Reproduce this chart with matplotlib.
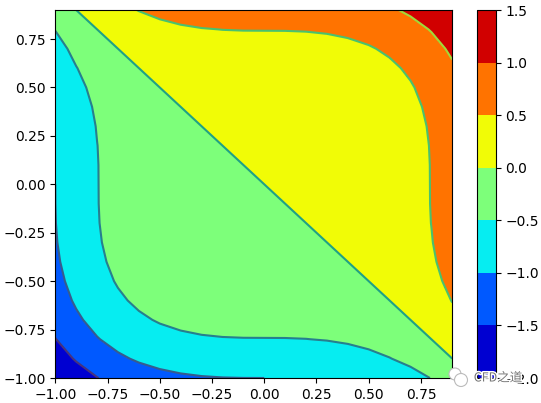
import matplotlib
matplotlib.use("Agg")
import matplotlib.pyplot as plt
import matplotlib.patheffects as pe
from matplotlib.patches import Circle
import numpy as np

x_values = [-1.0, -0.9, -0.8, -0.7, -0.6, -0.5, -0.4, -0.3, -0.2, -0.1,
            0.0, 0.1, 0.2, 0.3, 0.4, 0.5, 0.6, 0.7, 0.8, 0.9]
y_values = list(x_values)

z_rows = [
    [-2, -1.729, -1.512, -1.343, -1.216, -1.125, -1.064, -1.027, -1.008, -1.001, -1, -.999, -.992, -.973, -.936, -.875, -.784, -.657, -.488, -.271],
    [-1.729, -1.458, -1.241, -1.072, -.945, -.854, -.793, -.756, -.737, -.73, -.729, -.728, -.721, -.702, -.665, -.604, -.513, -.386, -.217, 0],
    [-1.512, -1.241, -1.024, -.855, -.728, -.637, -.576, -.539, -.52, -.513, -.512, -.511, -.504, -.485, -.448, -.387, -.296, -.169, 0, .217],
    [-1.343, -1.072, -.855, -.686, -.559, -.468, -.407, -.37, -.351, -.344, -.343, -.342, -.335, -.316, -.279, -.218, -.127, 0, .169, .386],
    [-1.216, -.945, -.728, -.559, -.432, -.341, -.28, -.243, -.224, -.217, -.216, -.215, -.208, -.189, -.152, -.091, 0, .127, .296, .513],
    [-1.125, -.854, -.637, -.468, -.341, -.25, -.189, -.152, -.133, -.126, -.125, -.124, -.117, -.098, -.061, 0, .091, .218, .387, .604],
    [-1.064, -.793, -.576, -.407, -.28, -.189, -.128, -.091, -.072, -.065, -.064, -.063, -.056, -.037, 0, .061, .152, .279, .448, .665],
    [-1.027, -.756, -.539, -.37, -.243, -.152, -.091, -.054, -.035, -.028, -.027, -.026, -.019, 0, .037, .098, .189, .316, .485, .702],
    [-1.008, -.737, -.52, -.351, -.224, -.133, -.072, -.035, -.016, -.009, -.008, -.007, 0, .019, .056, .117, .208, .335, .504, .721],
    [-1.001, -.73, -.513, -.344, -.217, -.126, -.065, -.028, -.009, -.002, -.001, 0, .007, .026, .063, .124, .215, .342, .511, .728],
    [-1, -.729, -.512, -.343, -.216, -.125, -.064, -.027, -.008, -.001, 0, .001, .008, .027, .064, .125, .216, .343, .512, .729],
    [-.999, -.728, -.511, -.342, -.215, -.124, -.063, -.026, -.007, 0, .001, .002, .009, .028, .065, .126, .217, .344, .513, .73],
    [-.992, -.721, -.504, -.335, -.208, -.117, -.056, -.019, 0, .007, .008, .009, .016, .035, .072, .133, .224, .351, .52, .737],
    [-.973, -.702, -.485, -.316, -.189, -.098, -.037, 0, .019, .026, .027, .028, .035, .054, .091, .152, .243, .37, .539, .756],
    [-.936, -.665, -.448, -.279, -.152, -.061, 0, .037, .056, .063, .064, .065, .072, .091, .128, .189, .28, .407, .576, .793],
    [-.875, -.604, -.387, -.218, -.091, 0, .061, .098, .117, .124, .125, .126, .133, .152, .189, .25, .341, .468, .637, .854],
    [-.784, -.513, -.296, -.127, 0, .091, .152, .189, .208, .215, .216, .217, .224, .243, .28, .341, .432, .559, .728, .945],
    [-.657, -.386, -.169, 0, .127, .218, .279, .316, .335, .342, .343, .344, .351, .37, .407, .468, .559, .686, .855, 1.072],
    [-.488, -.217, 0, .169, .296, .387, .448, .485, .504, .511, .512, .513, .52, .539, .576, .637, .728, .855, 1.024, 1.241],
    [-.271, 0, .217, .386, .513, .604, .665, .702, .721, .728, .729, .73, .737, .756, .793, .854, .945, 1.072, 1.241, 1.458],
]

W, H = 541, 403
fig = plt.figure(figsize=(W / 100, H / 100), dpi=100)
ax = fig.add_axes([55.3 / W, 1 - 378 / H, (452.3 - 55.3) / W, (378 - 10) / H])
cax = fig.add_axes([477.4 / W, 1 - 378 / H, 18.4 / W, (378 - 10) / H])

X, Y = np.meshgrid(x_values, y_values)
Z = np.array(z_rows)

filled = ax.contourf(X, Y, Z, cmap="jet")
ax.contour(X, Y, Z)
fig.colorbar(filled, cax=cax)

# Watermark in the lower-right corner
for cx, cy, r in [(455, 374, 6), (461, 380, 6.5)]:
    fig.add_artist(Circle((cx, H - cy), r, transform=None, facecolor="white",
                          edgecolor="#bbbbbb", linewidth=0.8, zorder=5))
fig.text(498 / W, 1 - 378 / H, "CFD之道", fontsize=9, color="#777777",
         family=["Noto Sans CJK SC", "DejaVu Sans"], ha="center", va="center", zorder=6,
         path_effects=[pe.withStroke(linewidth=2, foreground="white")])

fig.savefig("out.png", dpi=100)
